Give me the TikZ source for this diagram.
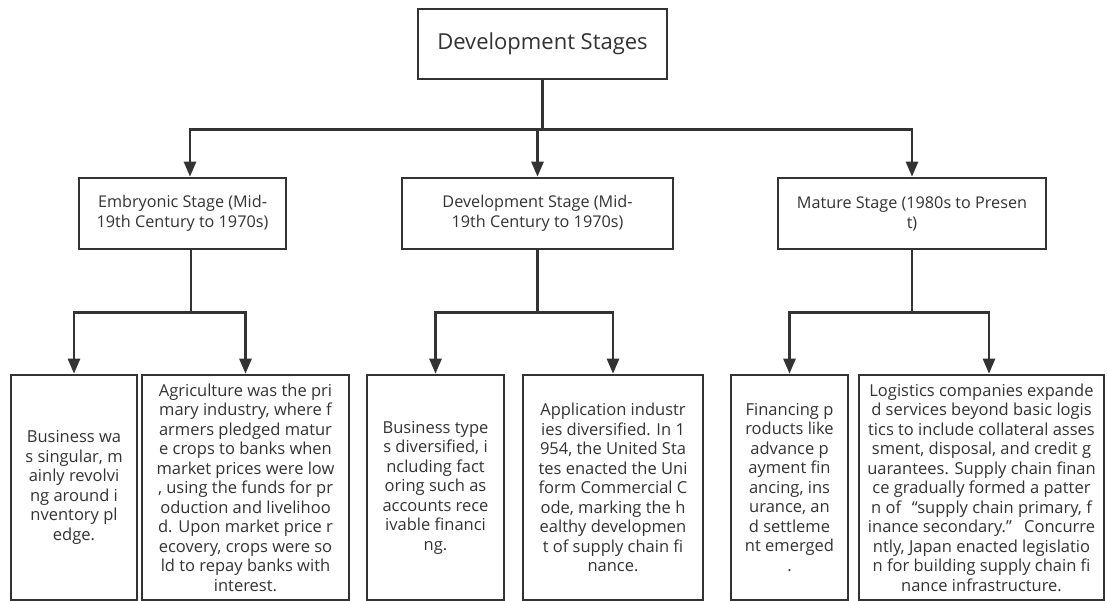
\documentclass[tikz,border=0pt]{standalone}
\usepackage{fontspec}
\setmainfont{Open Sans}
\usetikzlibrary{arrows.meta}
\definecolor{ink}{HTML}{333333}

\begin{document}
\begin{tikzpicture}[x=1pt,y=-1pt,
  box/.style={draw=ink,line width=2.6pt,fill=white,text=ink,align=center,
    inner sep=0pt,font=\fontsize{16.5}{19.5}\selectfont},
  link/.style={draw=ink,line width=2.6pt,-{Triangle[width=12pt,length=15pt]}}]
\useasboundingbox (0,0) rectangle (1108,601);
\node[box,minimum width=249pt,minimum height=70pt,font=\fontsize{22}{26}\selectfont] (root) at (542.5,44) {Development Stages};
\node[box,minimum width=207pt,minimum height=71pt,font=\fontsize{16.2}{20}\selectfont] (emb) at (182.5,213.5) {Embryonic Stage (Mid-\\19th Century to 1970s)};
\node[box,minimum width=271pt,minimum height=71pt,font=\fontsize{16.2}{20}\selectfont] (devs) at (537.5,213.5) {Development Stage (Mid-\\19th Century to 1970s)};
\node[box,minimum width=268pt,minimum height=71pt,font=\fontsize{16.2}{20}\selectfont] (mat) at (912,213.5) {Mature Stage (1980s to Presen\\t)};
\node[box,minimum width=126pt,minimum height=225pt] (b1) at (74,487.5) {Business wa\\s singular, m\\ainly revolvi\\ng around i\\nventory pl\\edge.};
\node[box,minimum width=207pt,minimum height=225pt] (b2) at (245.5,487.5) {Agriculture was the pri\\mary industry, where f\\armers pledged matur\\e crops to banks when\\market prices were low\\, using the funds for pr\\oduction and livelihoo\\d. Upon market price r\\ecovery, crops were so\\ld to repay banks with\\interest.};
\node[box,minimum width=137pt,minimum height=225pt] (b3) at (435.5,487.5) {Business type\\s diversified, i\\ncluding fact\\oring such as\\accounts rece\\ivable financi\\ng.};
\node[box,minimum width=180pt,minimum height=225pt] (b4) at (613,487.5) {Application industr\\ies diversified. In 1\\954, the United Sta\\tes enacted the Uni\\form Commercial C\\ode, marking the h\\ealthy developmen\\t of supply chain fi\\nance.};
\node[box,minimum width=117pt,minimum height=225pt] (b5) at (789.5,487.5) {Financing p\\roducts like\\advance p\\ayment fin\\ancing, ins\\urance, an\\d settleme\\nt emerged\\.};
\node[box,minimum width=245pt,minimum height=225pt] (b6) at (981.5,487.5) {Logistics companies expande\\d services beyond basic logis\\tics to include collateral asses\\sment, disposal, and credit g\\uarantees. Supply chain finan\\ce gradually formed a patter\\n of \hspace{0.4em}“supply chain primary, f\\inance secondary.” \hspace{0.4em}Concurre\\ntly, Japan enacted legislatio\\n for building supply chain fi\\nance infrastructure.};
\draw[link] (root.south) -- ++(0,49) -| ([xshift=7.5pt]emb.north);
\draw[link] (root.south) -- ++(0,49) -| (devs.north);
\draw[link] (root.south) -- ++(0,49) -| (mat.north);
\draw[link] ([xshift=8.5pt]emb.south) -- ++(0,62) -| (b1.north);
\draw[link] ([xshift=8.5pt]emb.south) -- ++(0,62) -| (b2.north);
\draw[link] (devs.south) -- ++(0,62) -| (b3.north);
\draw[link] (devs.south) -- ++(0,62) -| (b4.north);
\draw[link] (mat.south) -- ++(0,62) -| (b5.north);
\draw[link] (mat.south) -- ++(0,62) -| ([xshift=7.5pt]b6.north);
\end{tikzpicture}
\end{document}
